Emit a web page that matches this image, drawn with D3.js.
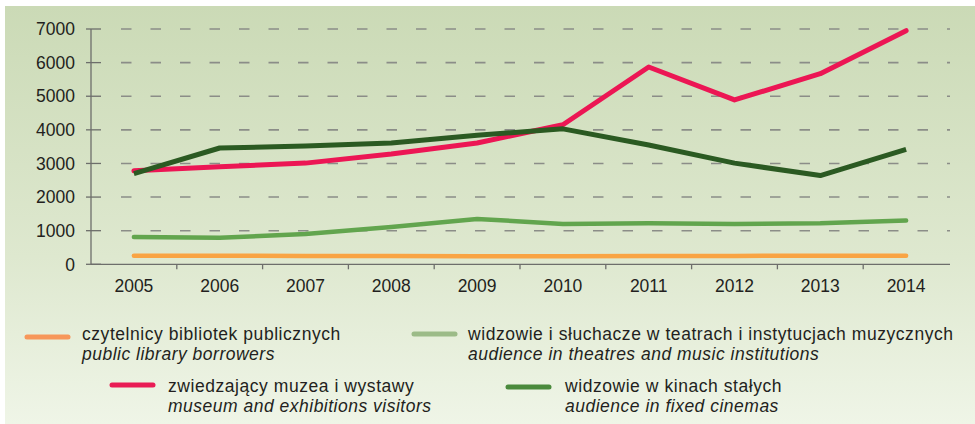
<!DOCTYPE html>
<html>
<head>
<meta charset="utf-8">
<script src="https://cdn.jsdelivr.net/npm/d3@7"></script>
<style>
  html, body { margin: 0; padding: 0; background: #fff; }
  svg { display: block; font-family: "Liberation Sans", Arial, sans-serif; }
</style>
</head>
<body>
<div id="chart"></div>
<script>
var years = [2005, 2006, 2007, 2008, 2009, 2010, 2011, 2012, 2013, 2014];
var yTicks = [0, 1000, 2000, 3000, 4000, 5000, 6000, 7000];

var libraryBorrowers = [255, 255, 250, 245, 240, 240, 245, 250, 255, 255];
var theatreAudience  = [810, 790, 900, 1110, 1350, 1200, 1220, 1200, 1220, 1300];
var museumVisitors   = [2780, 2900, 3010, 3280, 3610, 4150, 5870, 4890, 5670, 6950];
var cinemaAudience   = [2700, 3460, 3520, 3610, 3840, 4030, 3550, 3010, 2640, 3420];

var seriesNames = [
  "czytelnicy bibliotek publicznych",
  "widzowie i słuchacze w teatrach i instytucjach muzycznych",
  "zwiedzający muzea i wystawy",
  "widzowie w kinach stałych"
];
var seriesNamesEn = [
  "public library borrowers",
  "audience in theatres and music institutions",
  "museum and exhibitions visitors",
  "audience in fixed cinemas"
];

function init() {
  var w = 975, h = 424;

  var svg = d3.select("#chart").append("svg")
      .attr("width", w)
      .attr("height", h);

  var grad = svg.append("defs").append("linearGradient")
      .attr("id", "bg")
      .attr("x1", 0).attr("y1", 0).attr("x2", 0).attr("y2", 1);
  grad.append("stop").attr("offset", "0%").attr("stop-color", "#cbdab6");
  grad.append("stop").attr("offset", "60%").attr("stop-color", "#dee8cf");
  grad.append("stop").attr("offset", "100%").attr("stop-color", "#eff5e7");

  svg.append("rect")
      .attr("x", 5).attr("y", 6)
      .attr("width", w - 5).attr("height", h - 6)
      .attr("fill", "url(#bg)");

  var x = d3.scaleBand().domain(years).range([91, 949]);
  var y = d3.scaleLinear().domain([0, 7000]).range([264.3, 29]);

  var gridColor = "#8b8d88";
  var textColor = "#231f20";

  // dashed grid lines
  svg.append("g").selectAll("line")
      .data(yTicks.filter(function(d) { return d > 0; }))
      .enter().append("line")
      .attr("x1", 121).attr("x2", 950)
      .attr("y1", function(d) { return y(d); })
      .attr("y2", function(d) { return y(d); })
      .attr("stroke", gridColor)
      .attr("stroke-width", 1.6)
      .attr("stroke-dasharray", "10.5,19");

  // y axis
  var yAxis = svg.append("g");
  yAxis.append("line")
      .attr("x1", 91).attr("x2", 91)
      .attr("y1", y(7000)).attr("y2", y(0))
      .attr("stroke", "#6d6e6b").attr("stroke-width", 1.3);
  yAxis.selectAll("line.tick")
      .data(yTicks)
      .enter().append("line")
      .attr("class", "tick")
      .attr("x1", 86).attr("x2", 101)
      .attr("y1", function(d) { return y(d); })
      .attr("y2", function(d) { return y(d); })
      .attr("stroke", "#6d6e6b").attr("stroke-width", 1.3);
  yAxis.selectAll("text")
      .data(yTicks)
      .enter().append("text")
      .attr("x", 75)
      .attr("y", function(d) { return y(d) + 6.2; })
      .attr("text-anchor", "end")
      .attr("font-size", 17.5)
      .attr("fill", textColor)
      .text(function(d) { return d; });

  // x axis
  var xAxis = svg.append("g");
  xAxis.append("line")
      .attr("x1", 91).attr("x2", 950)
      .attr("y1", y(0)).attr("y2", y(0))
      .attr("stroke", "#6d6e6b").attr("stroke-width", 1.3);
  xAxis.selectAll("line.tick")
      .data(years.slice(1))
      .enter().append("line")
      .attr("class", "tick")
      .attr("x1", function(d) { return x(d); })
      .attr("x2", function(d) { return x(d); })
      .attr("y1", y(0)).attr("y2", y(0) + 5)
      .attr("stroke", "#6d6e6b").attr("stroke-width", 1.3);
  xAxis.selectAll("text")
      .data(years)
      .enter().append("text")
      .attr("x", function(d) { return x(d) + x.bandwidth() / 2; })
      .attr("y", 292)
      .attr("text-anchor", "middle")
      .attr("font-size", 17.5)
      .attr("fill", textColor)
      .text(function(d) { return d; });

  var series = [
    { values: libraryBorrowers, color: "#f9a444", cap: "round", width: 4.5 },
    { values: theatreAudience, color: "#62a54e", cap: "round", width: 4.5 },
    { values: museumVisitors, color: "#ec1654", cap: "round", width: 5 },
    { values: cinemaAudience, color: "#2b5a22", cap: "butt", width: 5 }
  ];

  var line = d3.line()
      .x(function(d, i) { return x(years[i]) + x.bandwidth() / 2; })
      .y(function(d) { return y(d); });

  svg.append("g").selectAll("path")
      .data(series)
      .enter().append("path")
      .attr("d", function(d) { return line(d.values); })
      .attr("fill", "none")
      .attr("stroke", function(d) { return d.color; })
      .attr("stroke-width", function(d) { return d.width; })
      .attr("stroke-linecap", function(d) { return d.cap; })
      .attr("stroke-linejoin", "round");

  // legend
  var legendItems = [
    { sx: 27, sy: 337, tx: 82, ty: 340, color: "#f7975a" },
    { sx: 414, sy: 334, tx: 468, ty: 340, color: "#9cbb88" },
    { sx: 112, sy: 385, tx: 168, ty: 392, color: "#e91c55" },
    { sx: 508, sy: 387, tx: 565, ty: 392, color: "#4a8a3c" }
  ];

  var legend = svg.append("g").selectAll("g")
      .data(legendItems)
      .enter().append("g");

  legend.append("line")
      .attr("x1", function(d) { return d.sx; })
      .attr("x2", function(d) { return d.sx + 41; })
      .attr("y1", function(d) { return d.sy; })
      .attr("y2", function(d) { return d.sy; })
      .attr("stroke", function(d) { return d.color; })
      .attr("stroke-width", 5)
      .attr("stroke-linecap", "round");

  legend.append("text")
      .attr("x", function(d) { return d.tx; })
      .attr("y", function(d) { return d.ty; })
      .attr("font-size", 17.5)
      .attr("letter-spacing", 0.55)
      .attr("fill", textColor)
      .text(function(d, i) { return seriesNames[i]; });

  legend.append("text")
      .attr("x", function(d) { return d.tx; })
      .attr("y", function(d) { return d.ty + 20; })
      .attr("font-size", 17.5)
      .attr("letter-spacing", 0.5)
      .attr("font-style", "italic")
      .attr("fill", textColor)
      .text(function(d, i) { return seriesNamesEn[i]; });
}

window.onload = init;
</script>
</body>
</html>
